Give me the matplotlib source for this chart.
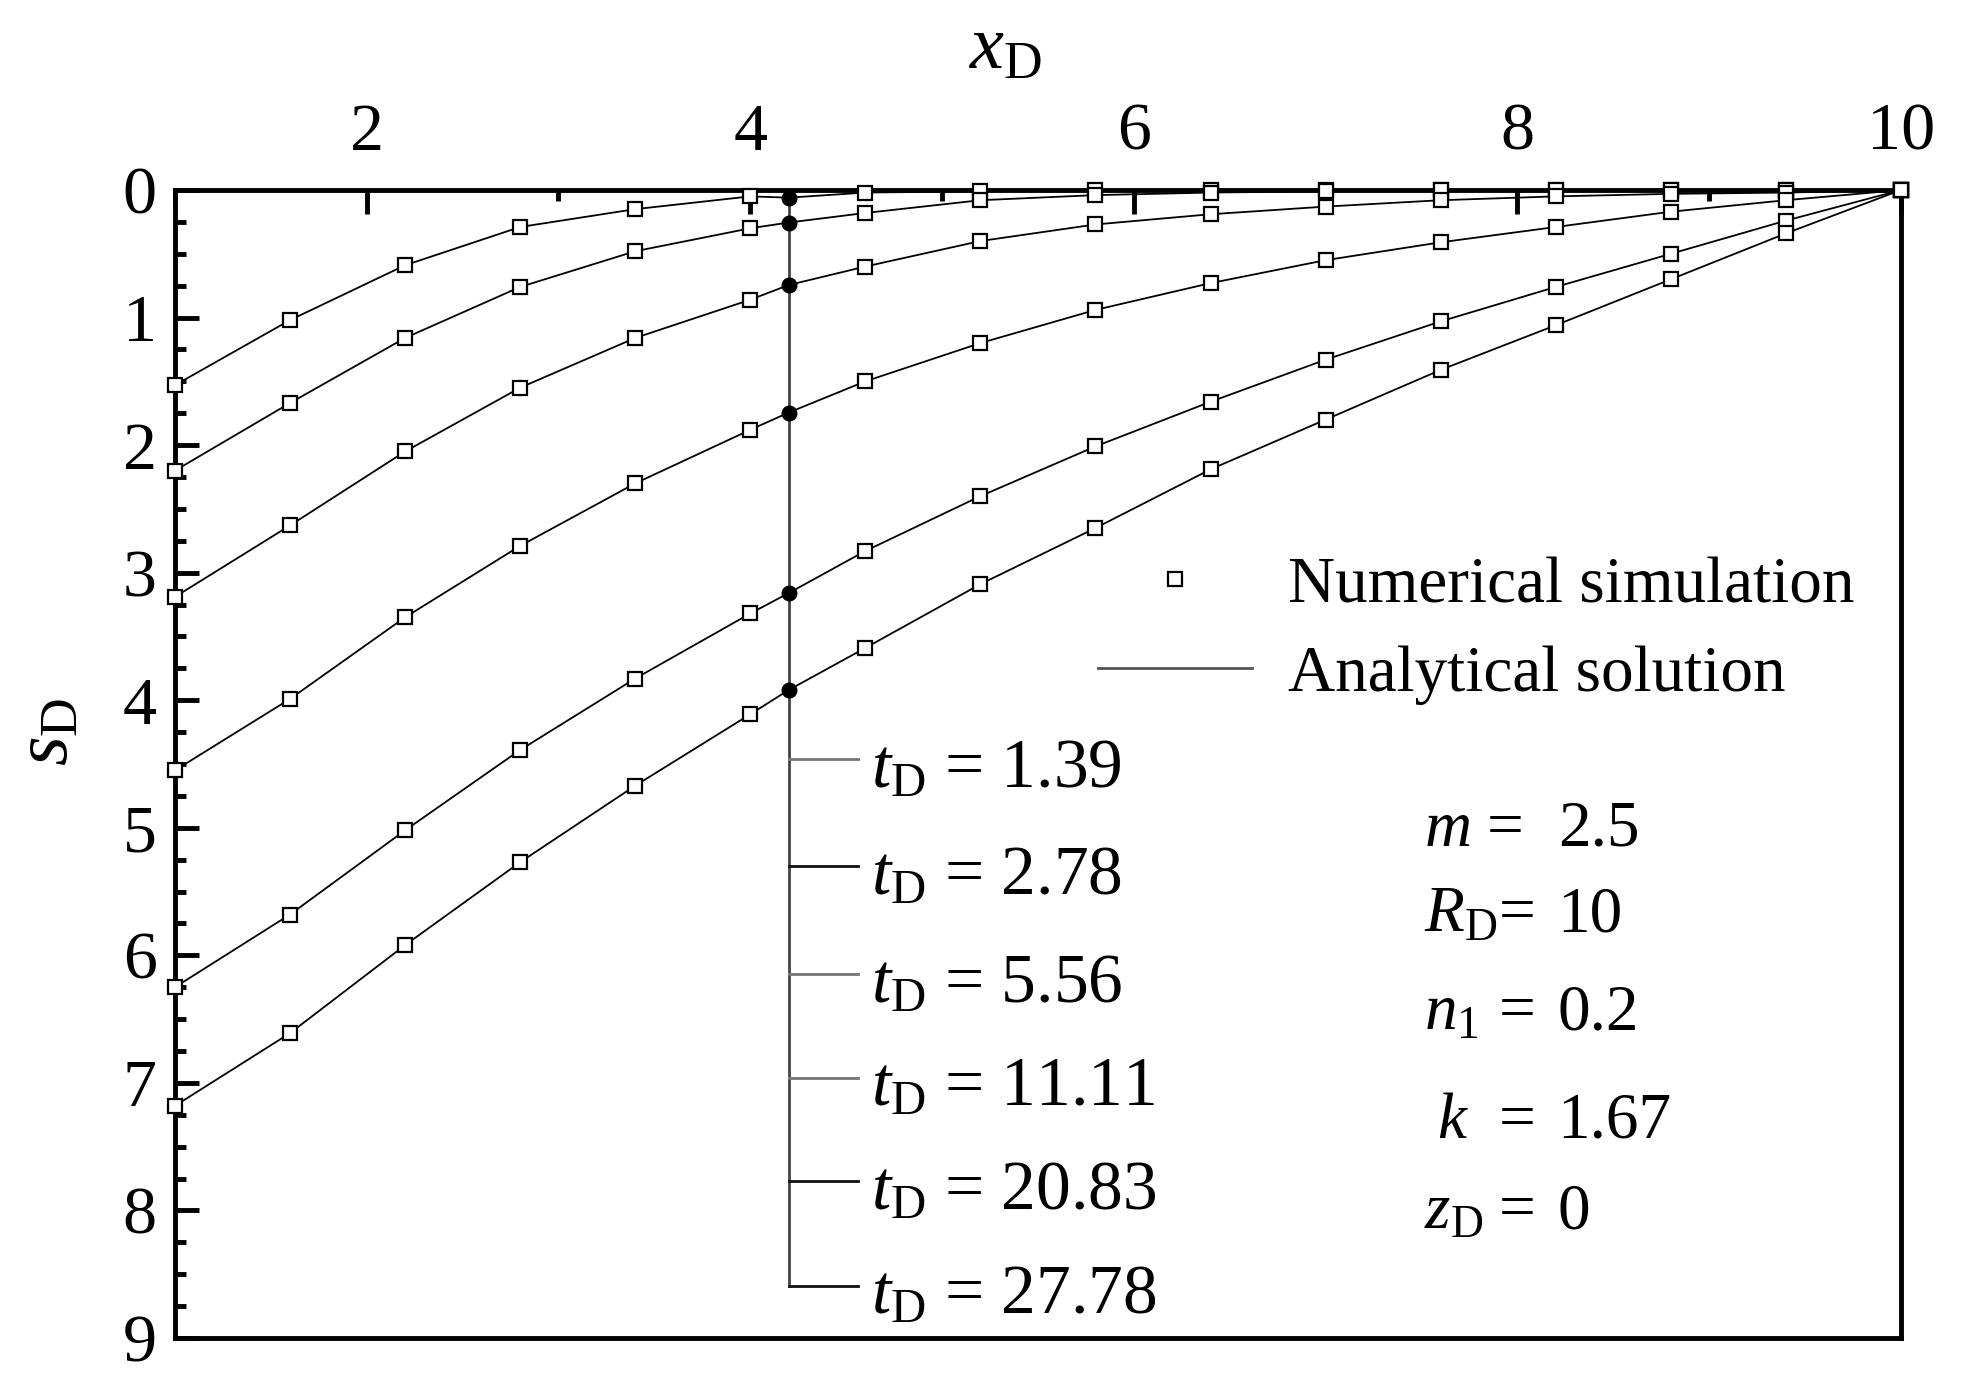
import matplotlib
matplotlib.use("Agg")
import matplotlib.pyplot as plt
from matplotlib.ticker import FixedLocator, MultipleLocator
from matplotlib.lines import Line2D

plt.rcParams['font.family'] = ['Liberation Serif', 'DejaVu Serif']
plt.rcParams['mathtext.fontset'] = 'custom'
plt.rcParams['mathtext.rm'] = 'Liberation Serif'
plt.rcParams['mathtext.it'] = 'Liberation Serif:italic'

# ---------------- data ----------------
x_num = [1.0, 1.6, 2.2, 2.8, 3.4, 4.0, 4.6, 5.2, 5.8, 6.4, 7.0, 7.6, 8.2, 8.8, 9.4, 10.0]

s_t139 = [1.53, 1.02, 0.59, 0.29, 0.15, 0.05, 0.02, 0.01, 0.0, 0.0, 0.0, 0.0, 0.0, 0.0, 0.0, 0.0]
s_t278 = [2.20, 1.67, 1.16, 0.76, 0.48, 0.30, 0.18, 0.08, 0.04, 0.02, 0.01, 0.0, 0.0, 0.0, 0.0, 0.0]
s_t556 = [3.19, 2.63, 2.05, 1.55, 1.16, 0.86, 0.60, 0.40, 0.27, 0.19, 0.13, 0.08, 0.05, 0.03, 0.02, 0.0]
s_t1111 = [4.55, 3.99, 3.35, 2.79, 2.30, 1.88, 1.50, 1.20, 0.94, 0.73, 0.55, 0.41, 0.29, 0.17, 0.08, 0.0]
s_t2083 = [6.25, 5.68, 5.02, 4.39, 3.83, 3.32, 2.83, 2.40, 2.01, 1.66, 1.33, 1.03, 0.76, 0.50, 0.24, 0.0]
s_t2778 = [7.18, 6.61, 5.92, 5.27, 4.67, 4.11, 3.59, 3.09, 2.65, 2.19, 1.80, 1.41, 1.06, 0.70, 0.34, 0.0]
series = [s_t139, s_t278, s_t556, s_t1111, s_t2083, s_t2778]

# observation point (filled dots) at x_D = 4.2
x_obs = 4.2
s_obs = [0.06, 0.255, 0.745, 1.745, 3.16, 3.92]

t_labels = ['1.39', '2.78', '5.56', '11.11', '20.83', '27.78']
t_label_y = [4.46, 5.30, 6.15, 6.96, 7.77, 8.59]
t_label_colors = ['#777777', '#111111', '#777777', '#777777', '#111111', '#111111']

param_syms = [r'$m$', r'$R_\mathrm{D}$', r'$n_1$', r'$k$', r'$z_\mathrm{D}$']
param_vals = ['2.5', '10', '0.2', '1.67', '0']
param_y = [5.14, 5.81, 6.58, 7.43, 8.14]

x_major = [2, 4, 6, 8, 10]
x_minor = [1, 3, 5, 7, 9]

# ---------------- figure ----------------
fig = plt.figure(figsize=(19.61, 13.91), dpi=100)
ax = fig.add_axes([0.0892, 0.0381, 0.8802, 0.8253])

for s, so in zip(series, s_obs):
    # analytical curve through the sample points and the observation point
    pts = sorted(list(zip(x_num, s)) + [(x_obs, so)])
    ax.plot([p[0] for p in pts], [p[1] for p in pts], color='black', lw=1.3,
            clip_on=False, zorder=2)
    ax.plot(x_num, s, linestyle='none', marker='s', ms=10.5, mfc='white',
            mec='black', mew=1.6, clip_on=False, zorder=4)

# vertical observation line and ticks
ax.plot([x_obs, x_obs], [0, t_label_y[-1]], color='#444444', lw=2.0, zorder=1)
ax.plot([x_obs] * len(s_obs), s_obs, linestyle='none', marker='o', ms=10.5,
        color='black', clip_on=False, zorder=5)
for yv, lab, c in zip(t_label_y, t_labels, t_label_colors):
    ax.plot([x_obs, 4.56], [yv, yv], color=c, lw=2.0, zorder=1)
    ax.text(4.63, yv + 0.22, r'$t_\mathrm{D}$ = ' + lab, fontsize=50, va='baseline', ha='left')

# parameters
for i, (sym, val, yv) in enumerate(zip(param_syms, param_vals, param_y)):
    xs = 7.58 if sym == r'$k$' else 7.515
    xe = 7.84 if i == 0 else 7.905
    ax.text(xs, yv, sym, fontsize=47, va='baseline', ha='left')
    ax.text(xe, yv, '=', fontsize=47, va='baseline', ha='left')
    ax.text(8.21, yv, val, fontsize=47, va='baseline', ha='left')

# legend
h_num = Line2D([], [], linestyle='none', marker='s', ms=10.5, mfc='white', mec='black', mew=1.6)
h_ana = Line2D([], [], color='#555555', lw=2.0)
ax.legend([h_num, h_ana], ['Numerical simulation', 'Analytical solution'],
          loc='center left', bbox_to_anchor=(0.535, 0.616), frameon=False,
          fontsize=47, handlelength=2.35, handletextpad=0.55, labelspacing=0.45,
          borderaxespad=0, borderpad=0, numpoints=1)

# axes
ax.set_xlim(1, 10)
ax.set_ylim(9, 0)
ax.xaxis.tick_top()
ax.xaxis.set_major_locator(FixedLocator(x_major))
ax.xaxis.set_minor_locator(FixedLocator(x_minor))
ax.yaxis.set_major_locator(MultipleLocator(1))
ax.yaxis.set_minor_locator(MultipleLocator(0.25))
ax.tick_params(which='both', direction='in', top=True, bottom=False, left=True, right=False,
               width=3.5, color='black')
ax.tick_params(which='major', length=17)
ax.tick_params(which='minor', length=8)
ax.tick_params(axis='x', which='major', labelsize=49, pad=19, labeltop=True, labelbottom=False)
ax.tick_params(axis='y', which='major', labelsize=49, pad=13)
for sp in ax.spines.values():
    sp.set_linewidth(3.5)

fig.text(0.513, 0.964, r'$x_\mathrm{D}$', fontsize=55, ha='center', va='center')
fig.text(0.025, 0.474, r'$s_\mathrm{D}$', fontsize=55, ha='center', va='center', rotation=90)

fig.savefig('out.png', dpi=100)
